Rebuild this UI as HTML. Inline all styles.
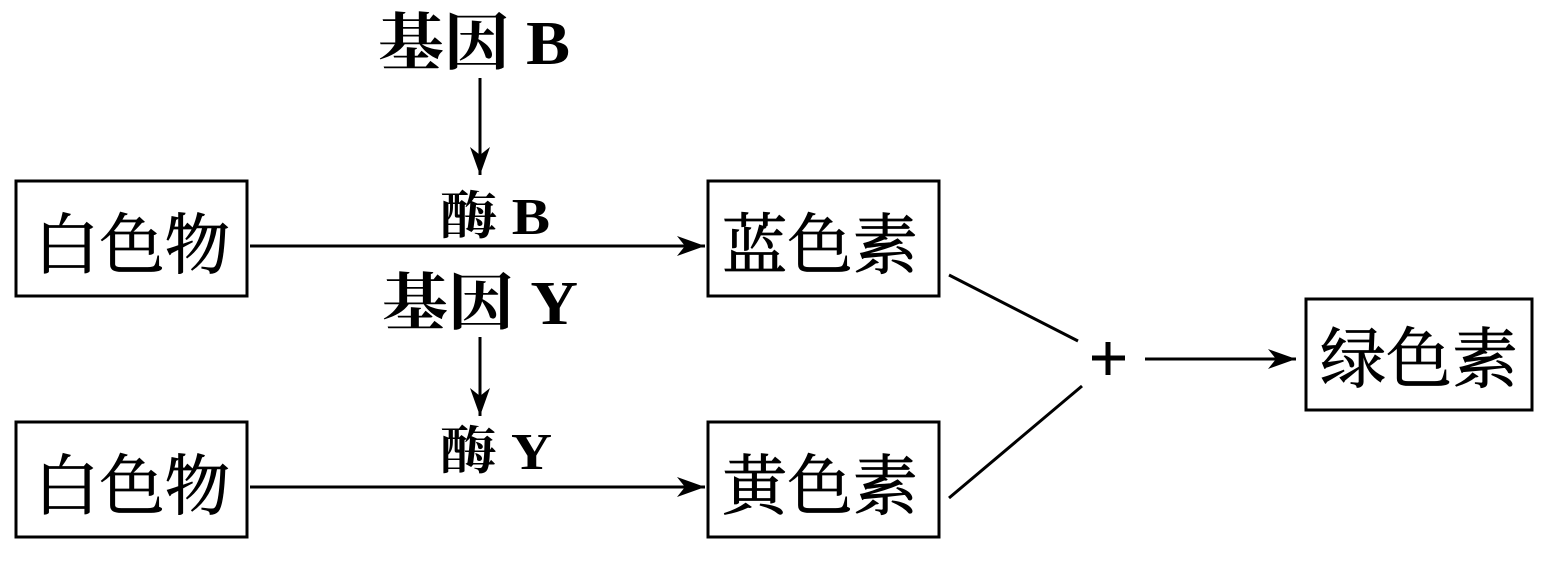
<!DOCTYPE html>
<html><head><meta charset="utf-8"><style>
body{margin:0;background:#fff;}
svg{display:block}
text{font-family:"Liberation Serif","Noto Serif CJK SC",serif;fill:#000}
</style></head><body>
<svg width="1544" height="574" viewBox="0 0 1544 574">
<defs>
<marker id="a" markerWidth="30" markerHeight="20" refX="28" refY="10" orient="auto" markerUnits="userSpaceOnUse">
<path d="M0,0 L28,10 L0,20 L8,10 Z" fill="#000"/>
</marker>
</defs>
<g fill="none" stroke="#000" stroke-width="3">
<rect x="16" y="181" width="231" height="115"/>
<rect x="16" y="422" width="231" height="115"/>
<rect x="708" y="181" width="231" height="115"/>
<rect x="708" y="422" width="231" height="115"/>
<rect x="1306" y="299" width="226" height="111"/>
</g>
<g stroke="#000" stroke-width="3" fill="none">
<line x1="250" y1="246" x2="705" y2="246" marker-end="url(#a)"/>
<line x1="250" y1="487" x2="705" y2="487" marker-end="url(#a)"/>
<line x1="480" y1="78" x2="480" y2="175" marker-end="url(#a)"/>
<line x1="480" y1="337" x2="480" y2="416" marker-end="url(#a)"/>
<line x1="1145" y1="359" x2="1296" y2="359" marker-end="url(#a)"/>
<line x1="949" y1="275" x2="1078" y2="341"/>
<line x1="949" y1="498" x2="1082" y2="386"/>
<line x1="1092" y1="358" x2="1125" y2="358" stroke-width="5"/>
<line x1="1108" y1="342" x2="1108" y2="375" stroke-width="5"/>
</g>
<g font-size="66" stroke="#000" stroke-width="0.8">
<text x="34" y="268" textLength="196" lengthAdjust="spacingAndGlyphs">白色物</text>
<text x="34" y="509" textLength="196" lengthAdjust="spacingAndGlyphs">白色物</text>
<text x="722" y="268" textLength="196" lengthAdjust="spacingAndGlyphs">蓝色素</text>
<text x="722" y="509" textLength="196" lengthAdjust="spacingAndGlyphs">黄色素</text>
<text x="1320" y="382" textLength="198" lengthAdjust="spacingAndGlyphs">绿色素</text>
</g>
<g font-size="62" font-weight="bold">
<text x="378" y="64" textLength="192" lengthAdjust="spacingAndGlyphs">基因 B</text>
<text x="382" y="324" textLength="196" lengthAdjust="spacingAndGlyphs">基因 Y</text>
</g>
<g font-size="52" font-weight="bold">
<text x="440" y="234" textLength="110" lengthAdjust="spacingAndGlyphs">酶 B</text>
<text x="440" y="469" textLength="112" lengthAdjust="spacingAndGlyphs">酶 Y</text>
</g>
</svg>
</body></html>
